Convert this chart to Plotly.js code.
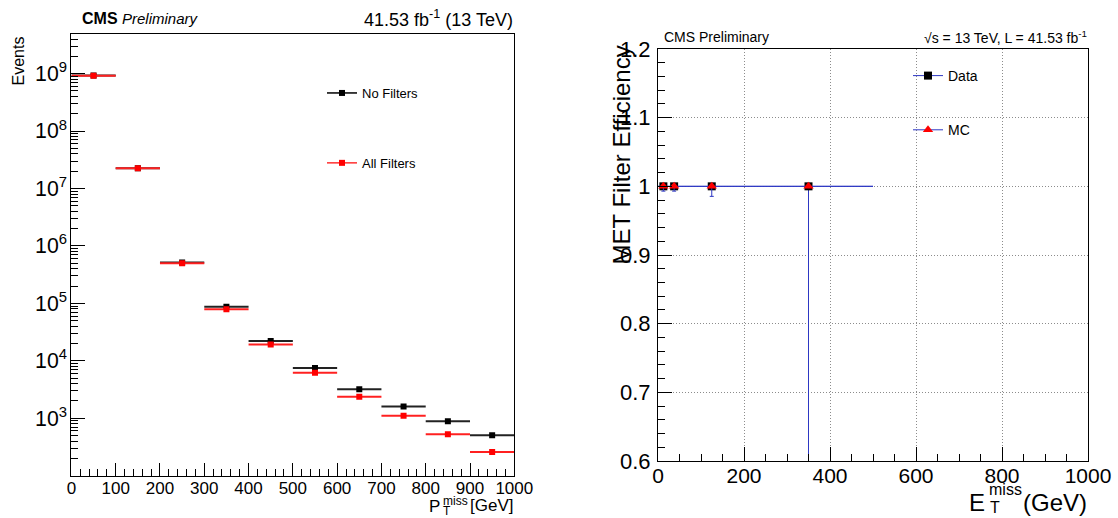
<!DOCTYPE html>
<html>
<head>
<meta charset="utf-8">
<script src="https://cdn.plot.ly/plotly-3.0.1.min.js"></script>
<style>
html,body{margin:0;padding:0;background:#fff;}
#chart{width:1118px;height:518px;}
</style>
</head>
<body>
<div id="chart"></div>
<script>
// ---------- Left panel: MET distribution ----------
const metBinEdges = [0, 100, 200, 300, 400, 500, 600, 700, 800, 900, 1000];
const noFiltersEvents = [9.25e8, 2.25e7, 5.13e5, 8.7e4, 2.22e4, 7.48e3, 3.21e3, 1.60e3, 887, 505];
const allFiltersEvents = [9.2e8, 2.25e7, 5.0e5, 7.86e4, 1.92e4, 6.22e3, 2.37e3, 1.10e3, 525, 259];
const leftXTicks = [0, 100, 200, 300, 400, 500, 600, 700, 800, 900, 1000];

// ---------- Right panel: MET filter efficiency ----------
const effBinEdges = [0, 25, 50, 200, 500];
const dataEff = [1, 1, 1, 1];
const dataEffErrLow = [0.001, 0.001, 0.002, 0.6];
const mcEff = [1, 1, 1, 1];
const mcEffErrLow = [0.007, 0.007, 0.0146, 0];
const rightXTicks = [0, 200, 400, 600, 800, 1000];
const rightYTicks = [0.6, 0.7, 0.8, 0.9, 1.0, 1.1, 1.2];

const W = 1118, H = 518;
const FONT = 'Liberation Sans, Arial, Helvetica, sans-serif';
const px = v => v / W;
const py = v => 1 - v / H;

function centers(edges) { return edges.slice(0, -1).map((e, i) => (e + edges[i + 1]) / 2); }
function halfWidths(edges) { return edges.slice(0, -1).map((e, i) => (edges[i + 1] - e) / 2); }
// separate the points with gaps so that "lines+markers" never joins them (line only shows in legend)
function gap(arr) { const out = []; arr.forEach((v, i) => { if (i) out.push(null); out.push(v); }); return out; }

const metC = centers(metBinEdges), metHW = halfWidths(metBinEdges);
const effC = centers(effBinEdges), effHW = halfWidths(effBinEdges);

const BLUE = 'rgb(45,55,195)';

const traces = [
  {
    name: 'No Filters', x: gap(metC), y: gap(noFiltersEvents), xaxis: 'x', yaxis: 'y',
    type: 'scatter', mode: 'lines+markers', connectgaps: false,
    line: {color: '#000', width: 1.5},
    marker: {symbol: 'square', size: 6, color: '#000'},
    error_x: {type: 'data', array: gap(metHW), color: '#222', thickness: 2, width: 0},
    legend: 'legend', legendgroup: 'a'
  },
  {
    name: 'All Filters', x: gap(metC), y: gap(allFiltersEvents), xaxis: 'x', yaxis: 'y',
    type: 'scatter', mode: 'lines+markers', connectgaps: false,
    line: {color: '#ff3030', width: 1.5},
    marker: {symbol: 'square', size: 6, color: '#ff0000'},
    error_x: {type: 'data', array: gap(metHW), color: '#ff2020', thickness: 2, width: 0},
    legend: 'legend', legendgroup: 'b'
  },
  {
    name: 'Data', x: gap(effC), y: gap(dataEff), xaxis: 'x2', yaxis: 'y2',
    type: 'scatter', mode: 'lines+markers', connectgaps: false,
    line: {color: BLUE, width: 1},
    marker: {symbol: 'square', size: 8, color: '#000'},
    error_x: {type: 'data', array: gap(effHW), color: BLUE, thickness: 1, width: 0},
    error_y: {type: 'data', symmetric: false, array: gap(dataEff.map(() => 0)), arrayminus: gap(dataEffErrLow), color: BLUE, thickness: 1, width: 2},
    legend: 'legend2', legendgroup: 'c'
  },
  {
    name: 'MC', x: gap(effC), y: gap(mcEff), xaxis: 'x2', yaxis: 'y2',
    type: 'scatter', mode: 'lines+markers', connectgaps: false,
    line: {color: BLUE, width: 1},
    marker: {symbol: 'triangle-up', size: 9, color: '#ff0000'},
    error_x: {type: 'data', array: gap(effHW), color: BLUE, thickness: 1, width: 0},
    error_y: {type: 'data', symmetric: false, array: gap(mcEff.map(() => 0)), arrayminus: gap(mcEffErrLow), color: BLUE, thickness: 1, width: 2},
    legend: 'legend2', legendgroup: 'd'
  }
];

const axisCommon = {
  showline: true, linecolor: '#000', linewidth: 1, mirror: true,
  zeroline: false, ticks: 'inside', tickcolor: '#000', tickwidth: 1,
  automargin: false, fixedrange: true
};

function ann(text, x, y, size, xanchor, yanchor, extra) {
  return Object.assign({
    text: text, x: px(x), y: py(y), xref: 'paper', yref: 'paper',
    xanchor: xanchor, yanchor: yanchor, showarrow: false,
    font: {family: FONT, size: size, color: '#000'}
  }, extra || {});
}

const annotations = [
  // left panel headers
  ann('<b>CMS</b>', 80, 18, 16, 'left', 'middle'),
  ann('<i>Preliminary</i>', 120, 18, 15, 'left', 'middle'),
  ann('41.53 fb<sup>-1</sup> (13 TeV)', 515, 18, 18, 'right', 'middle'),
  ann('Events', 18, 35, 16, 'center', 'top', {textangle: -90}),
  // left x title  P_T^miss [GeV]
  ann('P', 442, 506, 17, 'right', 'middle'),
  ann('miss', 441, 501, 12, 'left', 'middle'),
  ann('T', 441, 511, 12, 'left', 'middle'),
  ann('[GeV]', 515, 505, 17, 'right', 'middle'),
  // right panel headers
  ann('CMS Preliminary', 662, 37, 14, 'left', 'middle'),
  ann('√s = 13 TeV, L = 41.53 fb<sup>-1</sup>', 1089, 37, 14, 'right', 'middle'),
  ann('MET Filter Efficiency', 621, 44, 24, 'center', 'top', {textangle: -90}),
  // right x title  E_T^miss (GeV)
  ann('E', 987, 502, 24, 'right', 'middle'),
  ann('miss', 987, 489, 16, 'left', 'middle'),
  ann('T', 988, 507, 16, 'left', 'middle'),
  ann('(GeV)', 1089, 502, 24, 'right', 'middle')
];

const layout = {
  width: W, height: H,
  margin: {l: 0, r: 0, t: 0, b: 0},
  paper_bgcolor: '#fff', plot_bgcolor: '#fff',
  font: {family: FONT, color: '#000'},
  showlegend: true,
  xaxis: Object.assign({}, axisCommon, {
    domain: [px(71.4), px(514.3)], anchor: 'y',
    range: [0, 1000], tickmode: 'array', tickvals: leftXTicks, ticklen: 13,
    ticklabelstandoff: -3,
    minor: {dtick: 20, tick0: 0, ticks: 'inside', ticklen: 7, tickcolor: '#000', showgrid: false},
    showgrid: false, tickfont: {family: FONT, size: 17, color: '#000'}
  }),
  yaxis: Object.assign({}, axisCommon, {
    domain: [py(475.5), py(34)], anchor: 'x',
    type: 'log', range: [2.003, 9.69], dtick: 1, exponentformat: 'power', ticklen: 14,
    minor: {dtick: 'D1', ticks: 'inside', ticklen: 7, tickcolor: '#000', showgrid: false},
    showgrid: false, tickfont: {family: FONT, size: 17, color: '#000'}
  }),
  xaxis2: Object.assign({}, axisCommon, {
    domain: [px(658), px(1088)], anchor: 'y2',
    range: [0, 1000], tickmode: 'array', tickvals: rightXTicks, ticklen: 14,
    ticklabelstandoff: -4,
    minor: {dtick: 50, tick0: 0, ticks: 'inside', ticklen: 7, tickcolor: '#000', showgrid: false},
    showgrid: true, gridcolor: '#8c8c8c', griddash: '1px,2px', gridwidth: 1,
    tickfont: {family: FONT, size: 21, color: '#000'}
  }),
  yaxis2: Object.assign({}, axisCommon, {
    domain: [py(461), py(49)], anchor: 'x2',
    range: [0.6, 1.2], tickmode: 'array', tickvals: rightYTicks, ticklen: 14,
    ticklabelstandoff: 2,
    minor: {dtick: 0.02, tick0: 0.6, ticks: 'inside', ticklen: 7, tickcolor: '#000', showgrid: false},
    showgrid: true, gridcolor: '#8c8c8c', griddash: '1px,2px', gridwidth: 1,
    tickfont: {family: FONT, size: 22, color: '#000'}
  }),
  legend: {
    x: px(322), y: py(78), xanchor: 'left', yanchor: 'top',
    bgcolor: 'rgba(0,0,0,0)', borderwidth: 0,
    font: {family: FONT, size: 13, color: '#000'},
    traceorder: 'grouped', tracegroupgap: 50, itemclick: false, itemdoubleclick: false
  },
  legend2: {
    x: px(908), y: py(60), xanchor: 'left', yanchor: 'top',
    bgcolor: 'rgba(0,0,0,0)', borderwidth: 0,
    font: {family: FONT, size: 14, color: '#000'},
    traceorder: 'grouped', tracegroupgap: 33, itemclick: false, itemdoubleclick: false
  },
  annotations: annotations
};

Plotly.newPlot('chart', traces, layout, {displayModeBar: false, staticPlot: true});
</script>
</body>
</html>
